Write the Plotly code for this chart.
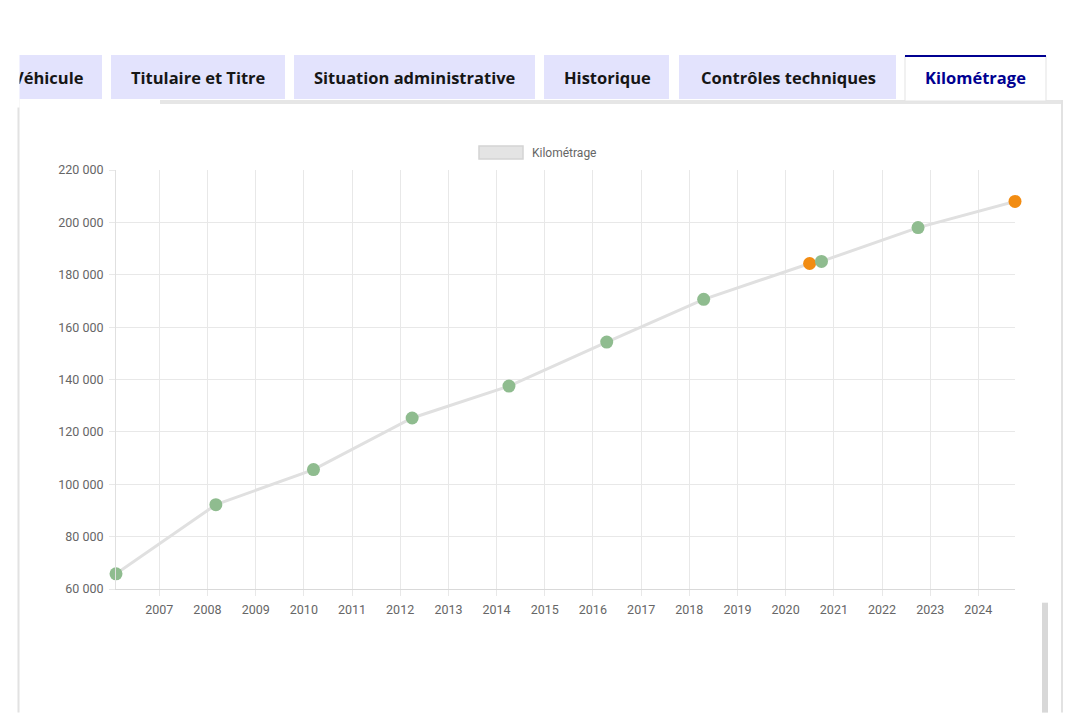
import plotly.graph_objects as go

# ---------------- data ----------------
dates = ["2006-02-07", "2008-03-05", "2010-03-15", "2012-04-01", "2014-04-05",
         "2016-04-15", "2018-04-20", "2020-07-01", "2020-09-29", "2022-10-01",
         "2024-10-05"]
km = [65800, 92200, 105600, 125300, 137500, 154300, 170600, 184300, 185100,
      198000, 208000]
point_type = ["ok", "ok", "ok", "ok", "ok", "ok", "ok", "warn", "ok", "ok", "warn"]

tabs = ["Véhicule", "Titulaire et Titre", "Situation administrative",
        "Historique", "Contrôles techniques", "Kilométrage"]
legend_label = "Kilométrage"

# ---------------- styling ----------------
W, H = 1080, 713
L, R, T, B = 116, 1015, 170, 589.3   # plot area in pixels
GREEN = "#8fbc8f"
ORANGE = "#f28c12"
LINE = "#e0e0e0"
GRID = "#e8e8e8"
TAB_BG = "#e3e3fd"
TAB_FONT = "Open Sans"
colors = [GREEN if p == "ok" else ORANGE for p in point_type]


def px(x):
    return (x - L) / (R - L)


def py(y):
    return (B - y) / (B - T)


fig = go.Figure()
fig.add_trace(go.Scatter(
    x=dates, y=km, mode="lines+markers",
    line=dict(color=LINE, width=3),
    marker=dict(color=colors, size=13, line=dict(width=0)),
    cliponaxis=False, showlegend=False, name=legend_label,
))

shapes = []
annotations = []

# tabs
tab_boxes = [(10, 102), (111, 285), (294, 535), (544, 669), (679, 896), (905, 1046)]
tab_text_cx = [50, 198, 415, 607, 788, 975]
for i, (name, (x0, x1), cx) in enumerate(zip(tabs, tab_boxes, tab_text_cx)):
    active = i == len(tabs) - 1
    if active:
        shapes.append(dict(type="rect", xref="paper", yref="paper",
                           x0=px(x0), x1=px(x1), y0=py(101), y1=py(56),
                           fillcolor="white", line=dict(color="#e3e3e3", width=1),
                           layer="above"))
        shapes.append(dict(type="line", xref="paper", yref="paper",
                           x0=px(x0), x1=px(x1), y0=py(56), y1=py(56),
                           line=dict(color="#000091", width=2), layer="above"))
    else:
        shapes.append(dict(type="rect", xref="paper", yref="paper",
                           x0=px(x0), x1=px(x1), y0=py(99), y1=py(55),
                           fillcolor=TAB_BG, line=dict(width=0), layer="above"))
    if i == 0:
        annotations.append(dict(text="<b>" + name + "</b>", xref="paper", yref="paper",
                                x=px(86), y=py(77), xanchor="right", yanchor="middle",
                                showarrow=False,
                                font=dict(family=TAB_FONT, size=16.5,
                                          color="#161616")))
    else:
        annotations.append(dict(text="<b>" + name + "</b>", xref="paper", yref="paper",
                                x=px(cx), y=py(77), xanchor="center", yanchor="middle",
                                showarrow=False,
                                font=dict(family=TAB_FONT, size=16.5,
                                          color="#000091" if active else "#161616")))

# white mask clipping the first tab
annotations.append(dict(text=" ", xref="paper", yref="paper", x=px(0), y=py(50),
                        xanchor="left", yanchor="top", width=18, height=56,
                        bgcolor="white", borderpad=0, showarrow=False))

# grey band under tabs + panel borders
shapes.append(dict(type="rect", xref="paper", yref="paper",
                   x0=px(160), x1=px(1063), y0=py(104), y1=py(100),
                   fillcolor="#e6e6e6", line=dict(width=0), layer="below"))
shapes.append(dict(type="line", xref="paper", yref="paper",
                   x0=px(18.5), x1=px(18.5), y0=py(99), y1=py(713),
                   line=dict(color="#e2e2e2", width=2), layer="below"))
shapes.append(dict(type="line", xref="paper", yref="paper",
                   x0=px(1062), x1=px(1062), y0=py(100), y1=py(713),
                   line=dict(color="#e2e2e2", width=2), layer="below"))
# scrollbar
shapes.append(dict(type="rect", xref="paper", yref="paper",
                   x0=px(1042), x1=px(1048), y0=py(713), y1=py(603),
                   fillcolor="#d8d8d8", line=dict(width=0), layer="below"))

# legend (box + label)
shapes.append(dict(type="rect", xref="paper", yref="paper",
                   x0=px(479), x1=px(523), y0=py(159), y1=py(146),
                   fillcolor="#e4e4e4", line=dict(color="#d4d4d4", width=1.5),
                   layer="above"))
annotations.append(dict(text=legend_label, xref="paper", yref="paper",
                        x=px(530), y=py(152.5), xanchor="left", yanchor="middle",
                        showarrow=False,
                        font=dict(family="Roboto", size=12, color="#666666")))

fig.update_layout(
    width=W, height=H,
    margin=dict(l=L, r=W - R, t=T, b=H - B, pad=0),
    paper_bgcolor="white", plot_bgcolor="white",
    separators=", ",
    font=dict(family="Roboto", size=12, color="#666666"),
    shapes=shapes, annotations=annotations,
    xaxis=dict(
        type="date", range=[dates[0], dates[-1]],
        tick0="2007-01-01", dtick="M12", tickformat="%Y",
        showgrid=True, gridcolor=GRID, gridwidth=1,
        ticks="outside", ticklen=6, tickcolor=GRID,
        showline=True, linecolor="#d9d9d9", linewidth=1,
        zeroline=False, tickfont=dict(size=12.5, color="#666666"),
        ticklabelstandoff=3,
    ),
    yaxis=dict(
        range=[60000, 220000], dtick=20000, tickformat=",d",
        showgrid=True, gridcolor=GRID, gridwidth=1,
        ticks="outside", ticklen=6, tickcolor=GRID,
        showline=True, linecolor="#e0e0e0", linewidth=1,
        zeroline=False, tickfont=dict(size=12.5, color="#666666"),
        ticklabelstandoff=3,
    ),
)

fig.write_html("out.html")
